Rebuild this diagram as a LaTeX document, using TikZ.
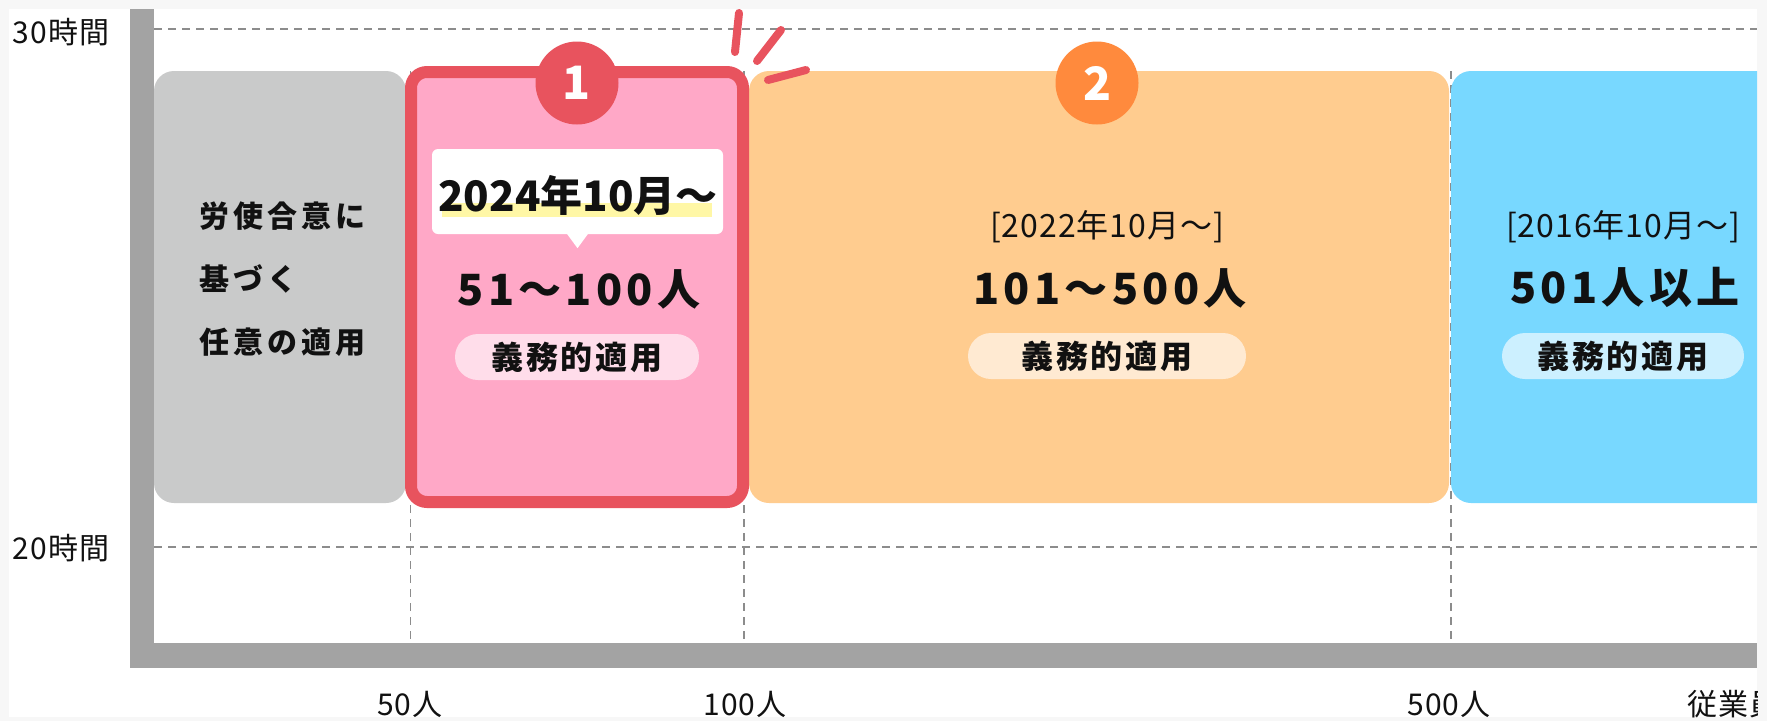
\documentclass[tikz,border=0pt]{standalone}
\usepackage{fontspec}
\setmainfont{Noto Sans CJK JP}
\usetikzlibrary{calc}
\definecolor{framebg}{HTML}{F7F7F7}
\definecolor{axisgray}{HTML}{A3A3A3}
\definecolor{gridgray}{HTML}{8C8C8C}
\definecolor{boxgray}{HTML}{C9CACA}
\definecolor{boxpink}{HTML}{FFA8C7}
\definecolor{accred}{HTML}{E8535E}
\definecolor{boxorange}{HTML}{FFCC8F}
\definecolor{accorange}{HTML}{FF8A3D}
\definecolor{boxblue}{HTML}{78D8FF}
\definecolor{pillpink}{HTML}{FFDDEA}
\definecolor{pillorange}{HTML}{FFEAD2}
\definecolor{pillblue}{HTML}{CCF0FF}
\definecolor{hlyellow}{HTML}{FFF7A6}
\definecolor{ink}{HTML}{111111}
\newcommand\lsp[1]{\addfontfeature{LetterSpace=#1}}
\tikzset{
  panel/.style={rounded corners=20pt, inner sep=0pt, draw=none},
  pill/.style={rounded corners=23pt, minimum height=46pt, inner sep=0pt, draw=none},
  badge/.style={circle, minimum size=83pt, inner sep=0pt, text=white,
    font=\fontsize{46}{46}\selectfont\bfseries},
  gridline/.style={draw=gridgray, line width=1.5pt, dash pattern=on 8pt off 6pt},
  burst/.style={draw=accred, line width=8pt, line cap=round},
  axisbar/.style={fill=axisgray, draw=none},
  bigtxt/.style={text=ink, inner sep=0pt, font=\fontsize{43}{50}\selectfont\bfseries\lsp{10}},
  datetxt/.style={text=ink, inner sep=0pt, font=\fontsize{32}{38}\selectfont\lsp{3}},
  pilltxt/.style={text=ink, inner sep=0pt, font=\fontsize{32}{38}\selectfont\bfseries\lsp{9}},
  axislbl/.style={text=ink, inner sep=0pt, font=\fontsize{30}{34}\selectfont\lsp{4}},
}
\begin{document}
\begin{tikzpicture}[x=1pt,y=-1pt]
\useasboundingbox (0,0) rectangle (1767,721);
\fill[framebg] (0,0) rectangle (1767,721);
\fill[white] (9,9) rectangle (1757,717);
\begin{scope}
\clip (9,9) rectangle (1757,717);
% horizontal grid
\coordinate (g30a) at (154,29);
\coordinate (g30b) at (1757,29);
\coordinate (g20a) at (154,547);
\coordinate (g20b) at (1757,547);
\draw[gridline] (g30a) -- (g30b);
\draw[gridline] (g20a) -- (g20b);
% vertical grid
\coordinate (v50t) at (410.5,71);  \coordinate (v50b) at (410.5,643);
\coordinate (v100t) at (744,71);   \coordinate (v100b) at (744,643);
\coordinate (v500t) at (1451,71);  \coordinate (v500b) at (1451,643);
\draw[gridline] (v50t) -- (v50b);
\draw[gridline] (v100t) -- (v100b);
\draw[gridline] (v500t) -- (v500b);
% panels
\node[panel, fill=boxgray, minimum width=252pt, minimum height=432pt] (pgray) at (280,287) {};
\node[panel, fill=boxorange, minimum width=700pt, minimum height=432pt] (porange) at (1099,287) {};
\node[panel, fill=boxblue, minimum width=344pt, minimum height=432pt] (pblue) at (1623,287) {};
\node[panel, fill=boxpink, draw=accred, line width=12pt, rounded corners=16pt,
      minimum width=332pt, minimum height=430pt] (ppink) at (577,287) {};
% burst
\coordinate (s1a) at (739,13);  \coordinate (s1b) at (735,52);
\coordinate (s2a) at (781,30);  \coordinate (s2b) at (757,61);
\coordinate (s3a) at (806,70);  \coordinate (s3b) at (768,80);
\draw[burst] (s1a) -- (s1b);
\draw[burst] (s2a) -- (s2b);
\draw[burst] (s3a) -- (s3b);
% badges
\node[badge, fill=accred] (b1) at (577,83) {1};
\node[badge, fill=accorange] (b2) at (1097,83) {2};
% date callout
\node[fill=white, rounded corners=6pt, minimum width=291pt, minimum height=85pt, inner sep=0pt] (datebox) at (577.5,191.5) {};
\fill[white] ($(datebox.south)+(-11,-1)$) -- ($(datebox.south)+(0,14)$) -- ($(datebox.south)+(11,-1)$) -- cycle;
\node[fill=hlyellow, minimum width=270pt, minimum height=14pt, inner sep=0pt] (hl) at (577,210) {};
\node[text=ink, inner sep=0pt, font=\fontsize{42}{48}\selectfont\bfseries] (date1) at (578,195) {2024年10月～};
% pink panel texts
\node[bigtxt] (n1) at (579,289) {51～100人};
\node[pill, fill=pillpink, minimum width=244pt] (pill1) at (577,357) {};
\node[pilltxt] (t1) at (pill1.center) {義務的適用};
% gray panel text
\node[anchor=west, align=left, text=ink, inner sep=0pt,
      font=\fontsize{30}{63}\selectfont\bfseries\lsp{14}] (free) at (199,279) {労使合意に\\基づく\\任意の適用};
% orange panel texts
\node[datetxt] (date2) at (1107,227) {[2022年10月～]};
\node[bigtxt] (n2) at (1110,288) {101～500人};
\node[pill, fill=pillorange, minimum width=278pt] (pill2) at (1107,356) {};
\node[pilltxt] (t2) at (pill2.center) {義務的適用};
% blue panel texts
\node[datetxt] (date3) at (1623,227) {[2016年10月～]};
\node[bigtxt] (n3) at (1625,287) {501人以上};
\node[pill, fill=pillblue, minimum width=242pt] (pill3) at (1623,356) {};
\node[pilltxt] (t3) at (pill3.center) {義務的適用};
% axes
\fill[axisbar] (130,9) rectangle (154,668);
\fill[axisbar] (130,643) rectangle (1757,668);
% labels
\node[axislbl] (y30) at (61,32) {30時間};
\node[axislbl] (y20) at (61,548) {20時間};
\node[axislbl] (x50) at (410,704) {50人};
\node[axislbl] (x100) at (745,704) {100人};
\node[axislbl] (x500) at (1449,704) {500人};
\node[axislbl, anchor=west] (xlab) at (1687,704) {従業員};
\end{scope}
\end{tikzpicture}
\end{document}
